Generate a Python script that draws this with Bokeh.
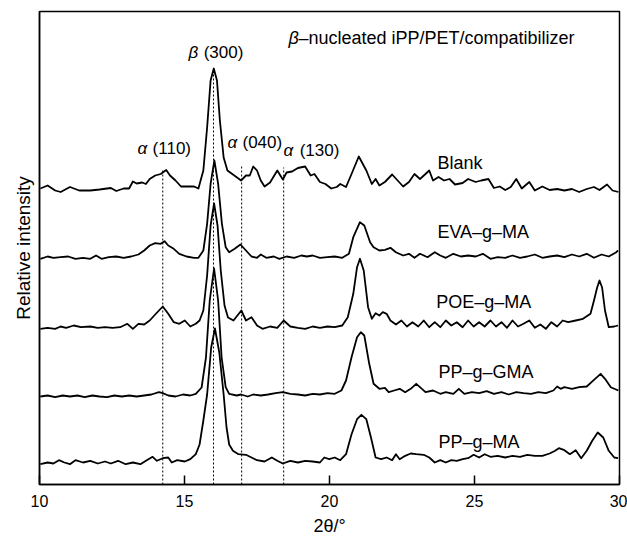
from bokeh.plotting import figure
from bokeh.models import Range1d, Label, FixedTicker
from bokeh.embed import file_html
from bokeh.resources import INLINE

# ---------------- data (2theta in degrees, intensity in arbitrary units) ----------------
blank_2theta = [10.03,10.28,10.54,10.73,11.05,11.37,11.75,12.07,12.46,12.65,12.90,13.09,13.22,13.35,13.54,13.67,13.80,13.99,14.18,14.37,14.50,14.69,14.88,15.07,15.33,15.48,15.65,15.78,15.90,16.01,16.12,16.22,16.35,16.48,16.67,16.86,16.95,17.12,17.25,17.37,17.50,17.63,17.76,17.95,18.20,18.39,18.52,18.71,18.91,19.16,19.35,19.48,19.67,19.86,20.06,20.25,20.37,20.57,20.76,21.01,21.27,21.46,21.59,21.72,21.91,22.16,22.35,22.54,22.74,22.93,23.12,23.31,23.44,23.57,23.76,23.95,24.14,24.33,24.59,24.78,25.04,25.23,25.48,25.67,25.87,26.06,26.25,26.44,26.63,26.89,27.08,27.34,27.59,27.85,28.10,28.36,28.61,28.87,29.12,29.31,29.57,29.76,29.96]
blank_int = [0,3,-2,-3.5,1.5,-2,-2,-1,0.5,-2.5,0,0,7,5,6,4.5,9.5,13,14.5,18.5,13,8,2,2,2,0,18,61,108,120,108,68,31,18,14,10,8,13,13,22,18,8,2,6,18,9,16,17,20.5,22,13,14.5,6.5,4.5,0,1.5,4.5,1.5,14.5,32,18,4.5,9.5,3,6.5,14,8,2,6.5,14.5,9.5,14.5,18,8,11.5,8,9.5,4,5.5,9.5,6.5,8,9.5,0.5,2,-1.5,1.5,9.5,0,6.5,-2,2,-1.5,-0.5,-2,-0.5,-3.5,-0.5,1.5,-1.5,4,-2,-3.5]

eva_2theta = [10.03,10.28,10.48,10.73,10.99,11.24,11.50,11.75,11.95,12.14,12.39,12.65,12.90,13.16,13.41,13.61,13.80,13.99,14.18,14.31,14.44,14.63,14.82,15.07,15.33,15.48,15.65,15.78,15.90,16.03,16.16,16.29,16.42,16.54,16.73,16.93,17.12,17.31,17.50,17.63,17.82,18.08,18.27,18.52,18.78,19.03,19.22,19.42,19.67,19.93,20.18,20.44,20.67,20.82,21.05,21.20,21.40,21.52,21.72,21.91,22.10,22.29,22.54,22.74,22.93,23.12,23.38,23.63,23.82,24.01,24.27,24.53,24.78,25.04,25.29,25.55,25.80,26.06,26.31,26.57,26.82,27.08,27.34,27.59,27.85,28.10,28.36,28.61,28.87,29.12,29.38,29.63,29.89,29.95]
eva_int = [-3.3,-1,-2.3,-1.7,-1,-3.3,-2.3,-3.3,0,-3.3,-1.7,-1,-2.3,-1,1,5,10,12.3,11.7,14.3,10,6.7,1.7,-1,-2.3,-2.3,5,31.7,71.7,95,71.7,31.7,8.3,3.3,6.7,11,5,-1,-2.3,1,-2.3,-1,-3.3,-1,-2.3,0,-1,0,-2.3,-1.7,-1,-2.3,1.7,18.3,33.3,30,13.3,8.3,5,5.7,7.7,3.3,0,1.7,-2.3,1.7,-1.7,3.3,0,-2.3,1.7,-1,0,-1,1.7,-3.3,-1.7,-2.3,0,-2.3,-1,1,-2.3,-1,0,-1.7,1,-1,1.7,-2.3,1,-1,3.3,5]

poe_2theta = [10.03,10.28,10.54,10.73,10.92,11.18,11.43,11.75,12.01,12.26,12.52,12.78,13.03,13.22,13.41,13.61,13.80,13.99,14.25,14.44,14.63,14.82,15.01,15.20,15.39,15.52,15.65,15.78,15.90,16.02,16.14,16.25,16.38,16.50,16.69,16.96,17.12,17.31,17.50,17.69,17.95,18.20,18.42,18.65,18.91,19.16,19.42,19.67,19.93,20.18,20.44,20.63,20.82,20.95,21.05,21.18,21.33,21.46,21.59,21.72,21.84,21.97,22.10,22.29,22.48,22.67,22.86,23.06,23.25,23.44,23.63,23.82,24.01,24.20,24.39,24.59,24.78,24.97,25.16,25.35,25.55,25.74,25.93,26.12,26.31,26.50,26.69,26.89,27.08,27.27,27.46,27.65,27.85,28.04,28.23,28.49,28.74,29.00,29.12,29.23,29.31,29.40,29.50,29.63,29.82,29.95]
poe_int = [-3.3,-2.3,-3.3,-1,-2.3,0,-1.7,-1,-2.3,-1.7,-2.3,-1.7,1.7,-3.3,1.7,1,5,11,19,11.7,3.3,1.7,5,-1,1.7,5,15,50,100,122,100,55,20,8,5,15,5,8.3,0,-3.3,-1,-2.3,5,-1,-2.3,-3.3,-1,-2.3,-1,-1.7,0,8.3,31.7,58.3,66.7,55,18.3,6.7,12.3,10,13.3,11.7,5,1,5,-1,3.3,-1,5,-1.7,3.3,-1.7,5,0,3.3,-1.7,5,-1,3.3,-1,5,-1,3.3,-2.3,5,-1,1.7,5,-2.3,1,-3.3,3.3,-1,5,3.3,5,6.7,11.7,25,38,45,38,15,-1.7,-1,0]

gma_2theta = [10.03,10.28,10.54,10.80,11.05,11.31,11.56,11.82,12.07,12.33,12.58,12.84,13.09,13.35,13.61,13.86,14.12,14.25,14.44,14.69,14.95,15.20,15.39,15.59,15.74,15.87,16.02,16.16,16.28,16.42,16.54,16.80,16.95,17.18,17.37,17.63,17.88,18.14,18.39,18.65,18.91,19.16,19.42,19.67,19.93,20.18,20.41,20.57,20.76,20.95,21.08,21.20,21.37,21.52,21.72,21.91,22.04,22.23,22.42,22.61,22.80,22.99,23.12,23.31,23.57,23.82,24.01,24.27,24.46,24.65,24.91,25.16,25.42,25.67,25.93,26.18,26.44,26.69,26.95,27.20,27.46,27.72,27.85,27.97,28.10,28.36,28.61,28.87,29.12,29.35,29.50,29.70,29.96]
gma_int = [-1,0,-1.7,0,-1,0,-1.7,0,-1,-1.7,0,-1,0,-1,0,1,3.3,2.3,0,-1,1,0,1.7,8,38,95,127,95,38,8.3,1.7,0,1,-1,1,0,1,2.3,3.3,1.7,1,0,1.7,1,2.3,1.7,5,15,38.3,58.3,63.3,60,31.7,11.7,6.7,7.7,3.3,5,6.7,3.3,6.7,11.7,8.3,3.3,5,1.7,3.3,1.7,6.7,1.7,3.3,2.3,4.3,1.7,3.3,1,3.3,2.3,1.7,3.3,2.3,5,9,6.7,8.3,6.7,8.3,9,15.7,21.7,16.7,8.3,5]

ma_2theta = [10.03,10.28,10.48,10.67,10.86,11.05,11.24,11.50,11.75,12.01,12.26,12.46,12.71,12.97,13.22,13.48,13.67,13.90,14.05,14.25,14.44,14.56,14.75,15.01,15.20,15.39,15.52,15.65,15.78,15.92,16.05,16.20,16.35,16.45,16.54,16.67,16.86,17.12,17.31,17.50,17.76,18.01,18.20,18.39,18.65,18.91,19.16,19.42,19.67,19.82,19.99,20.18,20.37,20.57,20.76,20.95,21.10,21.27,21.43,21.59,21.78,21.97,22.16,22.29,22.42,22.61,22.80,22.99,23.25,23.44,23.63,23.82,24.01,24.20,24.39,24.59,24.78,24.97,25.16,25.35,25.55,25.80,26.06,26.31,26.57,26.82,27.08,27.34,27.59,27.78,27.91,28.10,28.29,28.49,28.68,28.87,29.06,29.25,29.44,29.63,29.82,29.95]
ma_int = [-1.7,0,-1,2.3,0,-1.7,2.3,0,1.7,-1,1,-1,1.7,-1.7,0,-1.7,1.7,5.7,1.7,4.3,5,0,2.3,1,3.3,8.3,18,42,68,115,134,110,68,35,18,11.7,8.3,7.7,5,2.3,1,5,1.7,-1,1.7,0,1.7,1,0,5,3.3,5,2.3,8.3,28.3,43.3,47.7,43.3,25,5,3.3,5,2.3,8.3,3.3,6.7,9,8.3,7.7,5,0,2.3,0,2.3,1.7,3.3,4.3,7.7,5,8.3,5.7,6.7,5,6.7,5.7,7.7,6.7,6.7,9,11.7,14.3,12.3,8.3,12.3,4.3,11.7,21.7,30,25,11.7,5,4.3]

sample_names = ["Blank", "EVA\u2013g\u2013MA", "POE\u2013g\u2013MA", "PP\u2013g\u2013GMA", "PP\u2013g\u2013MA"]
stack_offsets = [296, 229, 159, 89, 22]

# reflection markers (2theta) and labels
reflection_2theta = [14.25, 16.0, 16.97, 18.42]
reflection_top = [315, 412, 320, 317]
reflection_phase = ["\u03b1", "\u03b2", "\u03b1", "\u03b1"]
reflection_hkl = ["(110)", "(300)", "(040)", "(130)"]

x_ticks = [10, 15, 20, 25, 30]

FONT = "Liberation Sans"

p = figure(width=627, height=538, output_backend="svg", toolbar_location=None,
           x_range=Range1d(10, 30), y_range=Range1d(0, 473),
           min_border_left=39, min_border_right=8, min_border_top=11, min_border_bottom=54)
p.background_fill_color = "white"
p.border_fill_color = "white"
p.grid.visible = False
p.outline_line_color = "black"
p.outline_line_width = 1.5

p.xaxis.ticker = FixedTicker(ticks=x_ticks)
p.xaxis.major_tick_in = 9
p.xaxis.major_tick_out = 0
p.xaxis.minor_tick_line_color = None
p.xaxis.major_tick_line_width = 1.5
p.xaxis.axis_line_width = 1.5
p.xaxis.major_label_text_font = FONT
p.xaxis.major_label_text_font_size = "16px"
p.xaxis.major_label_standoff = 10
p.xaxis.major_label_text_color = "black"
p.xaxis.axis_label = "2\u03b8/\u00b0"
p.xaxis.axis_label_text_font = FONT
p.xaxis.axis_label_text_font_style = "normal"
p.xaxis.axis_label_text_font_size = "18px"
p.xaxis.axis_label_standoff = 6
p.xaxis.axis_label_text_color = "black"

p.yaxis.ticker = FixedTicker(ticks=[])
p.yaxis.major_tick_out = 0
p.yaxis.minor_tick_line_color = None
p.yaxis.axis_line_width = 1.5
p.yaxis.axis_label = "Relative intensity"
p.yaxis.axis_label_text_font = FONT
p.yaxis.axis_label_text_font_style = "normal"
p.yaxis.axis_label_text_font_size = "19px"
p.yaxis.axis_label_standoff = 6
p.yaxis.axis_label_text_color = "black"

# dotted reflection lines
p.segment(x0=reflection_2theta, y0=[0] * len(reflection_2theta),
          x1=reflection_2theta, y1=reflection_top,
          line_color="black", line_width=1, line_dash="2 2")

curves = [(blank_2theta, blank_int), (eva_2theta, eva_int), (poe_2theta, poe_int),
          (gma_2theta, gma_int), (ma_2theta, ma_int)]
for (xs, ys), off in zip(curves, stack_offsets):
    assert len(xs) == len(ys)
    p.line(xs, [v + off for v in ys], line_color="black", line_width=1.8, line_join="round")


def add_text(txt, x, y, size, italic=False, align="left"):
    p.add_layout(Label(x=x, y=y, text=txt, text_font=FONT, text_font_size=f"{size}px",
                       text_font_style="italic" if italic else "normal",
                       text_align=align, text_baseline="middle", text_color="black"))


# reflection labels
label_pos = [(13.38, 13.90, 336), (15.14, 15.66, 432), (16.48, 17.00, 342), (18.41, 18.97, 334)]
for (gx, hx, y), g, h in zip(label_pos, reflection_phase, reflection_hkl):
    add_text(g, gx, y, 17, italic=True)
    add_text(h, hx, y, 17)

# title inside plot
add_text("\u03b2", 18.59, 447, 18, italic=True)
add_text("\u2013nucleated iPP/PET/compatibilizer", 18.93, 447, 18)

# sample names
name_pos = [(23.72, 322), (23.72, 253), (23.68, 183), (23.76, 113), (23.76, 42.5)]
for (x, y), name in zip(name_pos, sample_names):
    add_text(name, x, y, 18)

open("out.html", "w").write(file_html(p, INLINE))
